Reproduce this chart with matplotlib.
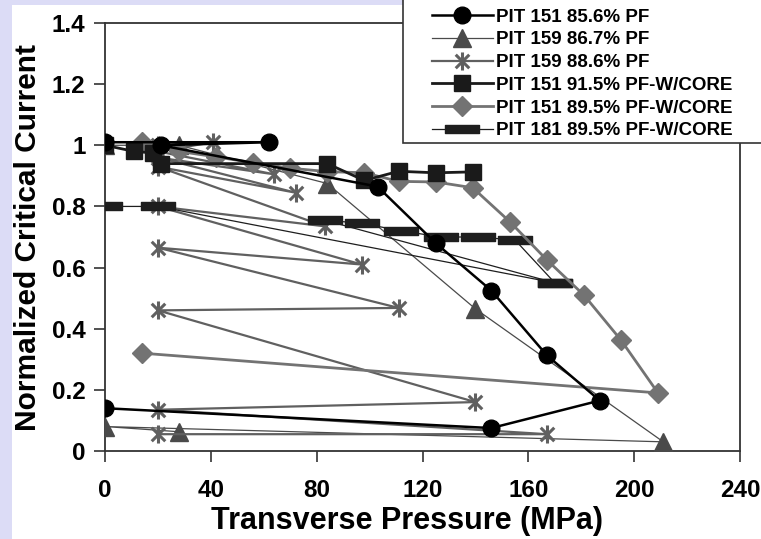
import numpy as np
import matplotlib.pyplot as plt
from matplotlib.path import Path
from matplotlib.patches import Rectangle

plt.rcParams['font.family'] = ['Liberation Sans', 'DejaVu Sans']
plt.rcParams['font.weight'] = 'bold'

# PIT 151 85.6% PF
x1 = [0, 62, 21, 103, 125, 146, 167, 187, 146, 0]
y1 = [1.01, 1.01, 1.0, 0.865, 0.68, 0.525, 0.313, 0.165, 0.075, 0.14]
# PIT 159 86.7% PF
x2 = [0, 28, 84, 140, 211, 0, 28]
y2 = [1.0, 1.0, 0.875, 0.465, 0.03, 0.08, 0.063]
# PIT 159 88.6% PF
x3 = [20, 41, 20, 64, 20, 72, 20, 83, 20, 97, 20, 111, 20, 140, 20, 167, 20]
y3 = [1.0, 1.01, 0.98, 0.905, 0.96, 0.845, 0.93, 0.735, 0.80, 0.61, 0.665,
      0.468, 0.46, 0.16, 0.135, 0.055, 0.055]
# PIT 151 91.5% PF-W/CORE
x4 = [0, 11, 18, 21, 84, 98, 111, 125, 139]
y4 = [1.0, 0.98, 0.975, 0.94, 0.94, 0.885, 0.915, 0.91, 0.913]
# PIT 151 89.5% PF-W/CORE
x5 = [14, 28, 42, 56, 70, 84, 98, 111, 125, 139, 153, 167, 181, 195, 209, 14]
y5 = [1.01, 0.98, 0.962, 0.943, 0.925, 0.914, 0.91, 0.882, 0.88, 0.861,
      0.75, 0.625, 0.51, 0.363, 0.19, 0.32]
# PIT 181 89.5% PF-W/CORE
x6 = [0, 20, 170, 83, 97, 112, 127, 141, 155, 170]
y6 = [0.8, 0.8, 0.55, 0.755, 0.745, 0.72, 0.70, 0.70, 0.69, 0.55]

labels = ['PIT 151 85.6% PF', 'PIT 159 86.7% PF', 'PIT 159 88.6% PF',
          'PIT 151 91.5% PF-W/CORE', 'PIT 151 89.5% PF-W/CORE',
          'PIT 181 89.5% PF-W/CORE']

# excel style markers
star = Path([(0, -1), (0, 1), (-0.75, -0.75), (0.75, 0.75), (-0.75, 0.75), (0.75, -0.75)],
            [Path.MOVETO, Path.LINETO, Path.MOVETO, Path.LINETO, Path.MOVETO, Path.LINETO])
dash = Path([(-1, -0.24), (1, -0.24), (1, 0.24), (-1, 0.24), (-1, -0.24)],
            [Path.MOVETO, Path.LINETO, Path.LINETO, Path.LINETO, Path.CLOSEPOLY])

fig = plt.figure(figsize=(7.61, 5.39), dpi=100)
fig.patch.set_facecolor('#dcdcf6')
fig.patches.append(Rectangle((12 / 761, 0), 1, 1 - 5 / 539, transform=fig.transFigure,
                             facecolor='white', edgecolor='none', zorder=-1))
ax = fig.add_axes([105 / 761, 1 - 451 / 539, 635 / 761, 428 / 539])

ax.plot(x2, y2, color='#4a4a4a', lw=0.9, marker='^', ms=13, mec='#4a4a4a', label=labels[1], zorder=3)
ax.plot(x3, y3, color='#606060', lw=1.6, marker=star, ms=13, mew=2.2, mec='#606060', label=labels[2], zorder=3)
ax.plot(x6, y6, color='#1e1e1e', lw=0.9, marker=dash, ms=24, mec='#1e1e1e', mfc='#1e1e1e', label=labels[5], zorder=3)
ax.plot(x5, y5, color='#737373', lw=2.0, marker='D', ms=10, mec='#737373', label=labels[4], zorder=4)
ax.plot(x4, y4, color='#1a1a1a', lw=2.0, marker='s', ms=11, mec='#1a1a1a', label=labels[3], zorder=4)
ax.plot(x1, y1, color='black', lw=1.8, marker='o', ms=12, label=labels[0], zorder=5)

ax.set_xlim(0, 240)
ax.set_ylim(0, 1.4)
ax.set_xticks(np.arange(0, 241, 40))
ax.set_yticks([0, 0.2, 0.4, 0.6, 0.8, 1.0, 1.2, 1.4])
ax.set_yticklabels(['0', '0.2', '0.4', '0.6', '0.8', '1', '1.2', '1.4'])
ax.tick_params(direction='out', length=8, width=1.2, labelsize=17.5, color='#333333')
ax.tick_params(axis='x', pad=12)
ax.tick_params(axis='y', pad=6)
for s in ax.spines.values():
    s.set_linewidth(1.3)
    s.set_color('#333333')

fig.text(407 / 761, 1 - 521 / 539, 'Transverse Pressure (MPa)',
         fontsize=22, fontweight='bold', ha='center', va='center')
fig.text(28 / 761, 1 - 238 / 539, 'Normalized Critical Current', fontsize=21.5,
         fontweight='bold', rotation=90, ha='center', va='center')

# legend box runs off the top right corner
fig.patches.append(Rectangle((403 / 761, 1 - 143 / 539), 0.6, 0.5, transform=fig.transFigure,
                             facecolor='white', edgecolor='#333333', lw=1.2, zorder=10))
h, l = ax.get_legend_handles_labels()
lab_idx = [l.index(t) for t in labels]
leg = fig.legend([h[i] for i in lab_idx], [l[i] for i in lab_idx], loc='upper left',
                 bbox_to_anchor=(432 / 761, 1 - 8.5 / 539), frameon=False, fontsize=13.5,
                 handlelength=3.25, handletextpad=0.15, labelspacing=0.3, borderpad=0,
                 borderaxespad=0)
leg.set_zorder(11)

fig.savefig('out.png', dpi=100)
